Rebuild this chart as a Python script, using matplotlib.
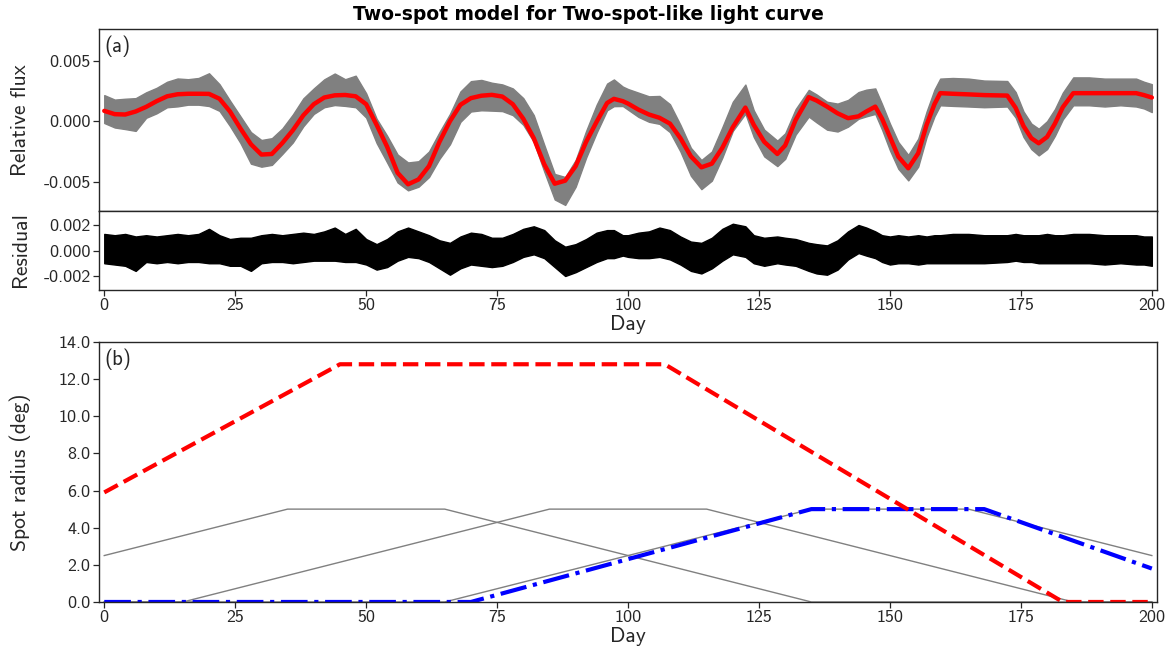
import numpy as np
import matplotlib
matplotlib.use("Agg")
import matplotlib.pyplot as plt
from matplotlib.ticker import FormatStrFormatter

plt.rcParams['font.family'] = ['cmss10', 'DejaVu Sans']
plt.rcParams['axes.unicode_minus'] = True
plt.rcParams['axes.formatter.use_mathtext'] = False

# ---------------- light curve (panel a) ----------------
lc_days = [0, 2, 4, 6, 8, 10, 12, 14, 16, 18,
           20, 22, 24, 26, 28, 30, 32, 34, 36, 38,
           40, 42, 44, 46, 48, 50, 52, 54, 56, 58,
           60, 62, 64, 66, 68, 70, 72, 74, 76, 78,
           80, 82, 84, 86, 88, 90, 92, 94, 96, 97.3,
           99, 100, 102, 104, 106, 108, 110, 112, 114, 116,
           118, 120, 122.4, 124, 126, 128.5, 130, 132, 134.5, 136,
           138, 140, 142, 144, 145.5, 147.2, 148.5, 150, 151.6, 153.5,
           155.4, 157, 158.5, 159.6, 162, 165, 168, 172.4, 174, 175.5,
           177, 178.4, 180, 181.5, 183, 185, 188, 191, 194, 197,
           198.5, 200]

model_flux = [0.00085, 0.00058, 0.00055, 0.00080, 0.00118, 0.00165, 0.00205, 0.00222, 0.00226, 0.00226,
              0.00225, 0.00185, 0.00080, -0.00060, -0.00190, -0.00275, -0.00270, -0.00180, -0.00075, 0.00048,
              0.00140, 0.00195, 0.00213, 0.00216, 0.00205, 0.00140, -0.00030, -0.00210, -0.00425, -0.00520,
              -0.00480, -0.00370, -0.00170, 0.00000, 0.00135, 0.00190, 0.00210, 0.00217, 0.00203, 0.00140,
              0.00020, -0.00140, -0.00355, -0.00515, -0.00490, -0.00370, -0.00170, -0.00005, 0.00150, 0.00184,
              0.00165, 0.00145, 0.00095, 0.00055, 0.00028, -0.00020, -0.00140, -0.00290, -0.00380, -0.00350,
              -0.00220, -0.00050, 0.00112, -0.00030, -0.00170, -0.00270, -0.00200, 0.00010, 0.00198, 0.00170,
              0.00120, 0.00065, 0.00025, 0.00040, 0.00080, 0.00120, 0.00020, -0.00130, -0.00292, -0.00388,
              -0.00264, -0.00030, 0.00140, 0.00231, 0.00226, 0.00221, 0.00215, 0.00211, 0.00110, -0.00040,
              -0.00140, -0.00182, -0.00130, -0.00020, 0.00115, 0.00231, 0.00231, 0.00231, 0.00231, 0.00231,
              0.00215, 0.00195]

# residual envelope (upper / lower edge of the noisy residual band)
resid_upper = [0.0013, 0.0012, 0.0013, 0.0011, 0.0012, 0.0011, 0.0012, 0.0013, 0.0012, 0.0013,
               0.0017, 0.0012, 0.0009, 0.0010, 0.0010, 0.0012, 0.0013, 0.0012, 0.0013, 0.0014,
               0.0013, 0.0015, 0.0018, 0.0013, 0.0017, 0.0009, 0.0005, 0.0009, 0.0015, 0.0018,
               0.0015, 0.0012, 0.0008, 0.0006, 0.0011, 0.0014, 0.0013, 0.0010, 0.0010, 0.0013,
               0.0017, 0.0019, 0.0016, 0.0008, 0.0003, 0.0005, 0.0009, 0.0014, 0.0016, 0.0016,
               0.0012, 0.0012, 0.0014, 0.0015, 0.0018, 0.0016, 0.0011, 0.0007, 0.0006, 0.0010,
               0.0017, 0.0021, 0.0019, 0.0012, 0.0010, 0.0011, 0.0010, 0.0009, 0.0006, 0.0005,
               0.0004, 0.0008, 0.0015, 0.0020, 0.0018, 0.0015, 0.0012, 0.0011, 0.0012, 0.0011,
               0.0012, 0.0011, 0.0012, 0.0012, 0.0013, 0.0013, 0.0012, 0.0012, 0.0013, 0.0012,
               0.0012, 0.0012, 0.0013, 0.0012, 0.0012, 0.0013, 0.0013, 0.0012, 0.0012, 0.0012,
               0.0011, 0.0011]
resid_lower = [-0.0010, -0.0011, -0.0012, -0.0016, -0.0009, -0.0010, -0.0009, -0.0010, -0.0009, -0.0009,
               -0.0010, -0.0010, -0.0012, -0.0012, -0.0016, -0.0010, -0.0009, -0.0009, -0.0010, -0.0009,
               -0.0008, -0.0008, -0.0008, -0.0009, -0.0009, -0.0011, -0.0015, -0.0013, -0.0008, -0.0005,
               -0.0006, -0.0009, -0.0014, -0.0019, -0.0014, -0.0011, -0.0012, -0.0013, -0.0012, -0.0009,
               -0.0005, -0.0003, -0.0006, -0.0013, -0.0020, -0.0017, -0.0013, -0.0009, -0.0006, -0.0006,
               -0.0004, -0.0005, -0.0006, -0.0006, -0.0005, -0.0007, -0.0011, -0.0016, -0.0018, -0.0014,
               -0.0008, -0.0003, -0.0005, -0.0010, -0.0012, -0.0010, -0.0011, -0.0012, -0.0016, -0.0018,
               -0.0019, -0.0015, -0.0007, -0.0002, -0.0004, -0.0006, -0.0009, -0.0011, -0.0010, -0.0010,
               -0.0011, -0.0010, -0.0010, -0.0010, -0.0010, -0.0010, -0.0010, -0.0009, -0.0008, -0.0009,
               -0.0009, -0.0010, -0.0010, -0.0010, -0.0010, -0.0010, -0.0010, -0.0011, -0.0010, -0.0011,
               -0.0011, -0.0012]

# ---------------- spot radii (panel b) ----------------
spot1_days = [0, 45, 107, 183, 200]
spot1_radius = [5.9, 12.8, 12.8, 0.0, 0.0]
spot2_days = [0, 70, 135, 168, 200]
spot2_radius = [0.0, 0.0, 5.0, 5.0, 1.8]
true1_days = [0, 35, 65, 135, 200]
true1_radius = [2.5, 5.0, 5.0, 0.0, 0.0]
true2_days = [0, 15, 85, 115, 185, 200]
true2_radius = [0.0, 0.0, 5.0, 5.0, 0.0, 0.0]
true3_days = [0, 65, 135, 165, 200]
true3_radius = [0.0, 0.0, 5.0, 5.0, 2.5]

xticks = [0, 25, 50, 75, 100, 125, 150, 175, 200]
flux_ticks = [-0.005, 0.0, 0.005]
resid_ticks = [-0.002, 0.0, 0.002]
radius_ticks = [0, 2, 4, 6, 8, 10, 12, 14]

# ---------------- figure ----------------
TXT = '0.15'
fig = plt.figure(figsize=(11.76, 6.51), dpi=100)
L, W = 0.0842, 0.8997
ax1 = fig.add_axes([L, 0.6759, W, 0.2796])
ax2 = fig.add_axes([L, 0.5545, W, 0.1214], sharex=ax1)
ax3 = fig.add_axes([L, 0.0753, W, 0.3994])

d = np.array(lc_days)
m = np.array(model_flux)
ru = np.array(resid_upper)
rl = np.array(resid_lower)

# observed data = model + residual
ax1.fill_between(d, m + rl, m + ru, color='gray', lw=1.0, edgecolor='gray')
ax1.plot(d, m, color='red', lw=3.2, solid_capstyle='round', solid_joinstyle='round')
ax1.set_ylim(-0.0074, 0.0076)
ax1.set_yticks(flux_ticks)
ax1.yaxis.set_major_formatter(FormatStrFormatter('%.3f'))
ax1.tick_params(labelbottom=False)
ax1.text(0.005, 0.965, '(a)', transform=ax1.transAxes, ha='left', va='top',
         fontsize=15, color=TXT)

ax2.fill_between(d, rl, ru, color='black', lw=1.0, edgecolor='black')
ax2.set_ylim(-0.0031, 0.0031)
ax2.set_yticks(resid_ticks)
ax2.yaxis.set_major_formatter(FormatStrFormatter('%.3f'))
ax2.set_xlim(-1, 201)
ax2.set_xticks(xticks)
ax2.set_xlabel('Day', fontsize=15.5, color=TXT, labelpad=1)

ax3.plot(true1_days, true1_radius, color='gray', lw=1.0)
ax3.plot(true2_days, true2_radius, color='gray', lw=1.0)
ax3.plot(true3_days, true3_radius, color='gray', lw=1.0)
ax3.plot(spot2_days, spot2_radius, color='blue', lw=3.0, ls='-.')
ax3.plot(spot1_days, spot1_radius, color='red', lw=3.0, ls='--')
ax3.set_xlim(-1, 201)
ax3.set_ylim(0, 14)
ax3.set_xticks(xticks)
ax3.set_yticks(radius_ticks)
ax3.yaxis.set_major_formatter(FormatStrFormatter('%.1f'))
ax3.set_xlabel('Day', fontsize=15.5, color=TXT, labelpad=1)
ax3.text(0.005, 0.975, '(b)', transform=ax3.transAxes, ha='left', va='top',
         fontsize=15, color=TXT)

for ax in (ax1, ax2, ax3):
    ax.tick_params(direction='out', length=4, width=0.9, labelsize=13,
                   colors=TXT, pad=2)
    for s in ax.spines.values():
        s.set_color(TXT)
        s.set_linewidth(1.0)

fig.text(20 / 1176, 1 - 120 / 651, 'Relative flux', rotation=90, ha='center',
         va='center', fontsize=15.5, color=TXT)
fig.text(20 / 1176, 1 - 250 / 651, 'Residual', rotation=90, ha='center',
         va='center', fontsize=15.5, color=TXT)
fig.text(20 / 1176, 1 - 472 / 651, 'Spot radius (deg)', rotation=90, ha='center',
         va='center', fontsize=15.5, color=TXT)

fig.text(0.5, 1 - 15 / 651, 'Two-spot model for Two-spot-like light curve',
         ha='center', va='center', fontsize=13.5, fontweight='bold',
         family=['DejaVu Sans'], color='black')

fig.savefig('out.png', dpi=100)
